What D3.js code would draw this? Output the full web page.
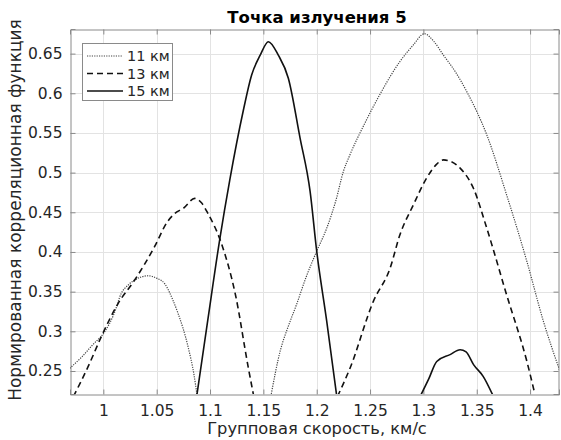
<!DOCTYPE html>
<html>
<head>
<meta charset="utf-8">
<script src="https://cdn.jsdelivr.net/npm/d3@7"></script>
<style>
  body { margin: 0; background: #fff; }
  text { font-family: "DejaVu Sans", sans-serif; }
</style>
</head>
<body>
<div id="vis-holder"></div>
<script>
// Chart data, null = curve leaves the axes
const speed11 = [0.9685, 0.980, 0.990, 1.0013, 1.010, 1.0169, 1.023, 1.0294, 1.0419, 1.050, 1.0575, 1.065, 1.070, 1.0794, 1.085, 1.088, null,
                 1.157, 1.1657, 1.173, 1.181, 1.190, 1.200, 1.2094, 1.218, 1.225, 1.231, 1.245, 1.259, 1.278, 1.290, 1.301, 1.310, 1.3188, 1.330, 1.3407, 1.3594, 1.378, 1.397, 1.4125, 1.428];
const corr11 = [0.2534, 0.268, 0.283, 0.2995, 0.322, 0.348, 0.358, 0.3646, 0.370, 0.367, 0.360, 0.340, 0.3227, 0.2806, 0.245, 0.218, null,
                0.218, 0.2748, 0.305, 0.3335, 0.368, 0.401, 0.430, 0.465, 0.5015, 0.522, 0.562, 0.598, 0.640, 0.660, 0.675, 0.665, 0.648, 0.627, 0.602, 0.5476, 0.472, 0.388, 0.3126, 0.2496];

const speed13 = [0.972, 0.9857, 0.998, 1.0138, 1.0294, 1.048, 1.060, 1.067, 1.075, 1.0857, 1.092, 1.098, 1.1106, 1.124, 1.1357, 1.141, null,
                 1.2195, 1.2313, 1.2531, 1.2688, 1.278, 1.2906, 1.303, 1.312, 1.3188, 1.326, 1.3344, 1.347, 1.3594, 1.378, 1.397, 1.405];
const corr13 = [0.218, 0.2554, 0.293, 0.335, 0.3646, 0.4066, 0.438, 0.4486, 0.455, 0.4675, 0.462, 0.4486, 0.411, 0.345, 0.2554, 0.218, null,
                0.218, 0.2538, 0.3378, 0.3797, 0.4217, 0.4594, 0.493, 0.510, 0.516, 0.514, 0.5057, 0.480, 0.430, 0.346, 0.262, 0.218];

const speed15 = [1.0875, 1.098, 1.109, 1.1185, 1.131, 1.139, 1.147, 1.1547, 1.164, 1.1734, 1.1844, 1.1938, 1.200, 1.2094, 1.2188, null,
                 1.297, 1.305, 1.3125, 1.325, 1.3344, 1.340, 1.347, 1.356, 1.3656];
const corr15 = [0.218, 0.315, 0.415, 0.4906, 0.577, 0.623, 0.648, 0.665, 0.648, 0.619, 0.5435, 0.4763, 0.401, 0.3126, 0.218, null,
                0.218, 0.240, 0.262, 0.2706, 0.2768, 0.274, 0.258, 0.2433, 0.218];

const seriesNames = ["11 км", "13 км", "15 км"];
const xTicks = [1, 1.05, 1.1, 1.15, 1.2, 1.25, 1.3, 1.35, 1.4];
const yTicks = [0.25, 0.3, 0.35, 0.4, 0.45, 0.5, 0.55, 0.6, 0.65];

// Set margins and dimensions
const width = 561;
const height = 440;
const margin = { top: 29, right: 2, bottom: 46, left: 70 };

const svg = d3.select("#vis-holder")
    .append("svg")
    .attr("width", width)
    .attr("height", height);

const x = d3.scaleLinear()
    .domain([0.96875, 1.4271])
    .range([margin.left, width - margin.right]);

const y = d3.scaleLinear()
    .domain([0.221, 0.681])
    .range([height - margin.bottom, margin.top]);

const axisColor = "#262626";

// grid
svg.append("g")
    .selectAll("line")
    .data(xTicks)
    .enter()
    .append("line")
    .attr("x1", (d) => Math.round(x(d)) + 0.5)
    .attr("x2", (d) => Math.round(x(d)) + 0.5)
    .attr("y1", y.range()[0])
    .attr("y2", y.range()[1])
    .attr("stroke", "#e3e3e3");

svg.append("g")
    .selectAll("line")
    .data(yTicks)
    .enter()
    .append("line")
    .attr("y1", (d) => Math.round(y(d)) + 0.5)
    .attr("y2", (d) => Math.round(y(d)) + 0.5)
    .attr("x1", x.range()[0])
    .attr("x2", x.range()[1])
    .attr("stroke", "#e3e3e3");

// axes (MATLAB style, ticks pointing in, box on)
const tickLen = 5;
const axBottom = svg.append("g")
    .attr("transform", `translate(0,${height - margin.bottom + 0.5})`)
    .call(d3.axisBottom(x).tickValues(xTicks).tickSize(-tickLen).tickPadding(10).tickFormat(d3.format("")));
const axTop = svg.append("g")
    .attr("transform", `translate(0,${margin.top + 0.5})`)
    .call(d3.axisTop(x).tickValues(xTicks).tickSize(-tickLen).tickFormat(""));
const axLeft = svg.append("g")
    .attr("transform", `translate(${margin.left + 0.5},0)`)
    .call(d3.axisLeft(y).tickValues(yTicks).tickSize(-tickLen).tickPadding(8).tickFormat(d3.format("")));
const axRight = svg.append("g")
    .attr("transform", `translate(${width - margin.right - 0.5},0)`)
    .call(d3.axisRight(y).tickValues(yTicks).tickSize(-tickLen).tickFormat(""));

[axBottom, axTop, axLeft, axRight].forEach((g) => {
  g.select(".domain").attr("stroke", "#8a8a8a").attr("stroke-width", 1);
  g.selectAll(".tick line").attr("stroke", "#8a8a8a");
  g.selectAll(".tick text").attr("fill", axisColor).attr("font-size", "15.5px");
});

// clip for the curves
svg.append("clipPath")
    .attr("id", "plot-clip")
    .append("rect")
    .attr("x", margin.left)
    .attr("y", margin.top)
    .attr("width", width - margin.left - margin.right)
    .attr("height", height - margin.top - margin.bottom);

const line = d3.line()
    .defined((d) => d[0] !== null)
    .x((d) => x(d[0]))
    .y((d) => y(d[1]))
    .curve(d3.curveMonotoneX);

const series = [
  { pts: d3.zip(speed11, corr11), dash: "1.2,1.2", w: 1.2, color: "#444" },
  { pts: d3.zip(speed13, corr13), dash: "6,4", w: 1.6, color: "#111" },
  { pts: d3.zip(speed15, corr15), dash: null, w: 1.6, color: "#111" }
];

svg.append("g")
    .attr("clip-path", "url(#plot-clip)")
    .selectAll("path")
    .data(series)
    .enter()
    .append("path")
    .attr("d", (d) => line(d.pts))
    .attr("fill", "none")
    .attr("stroke", (d) => d.color)
    .attr("stroke-width", (d) => d.w)
    .attr("stroke-dasharray", (d) => d.dash);

// legend
const legend = svg.append("g");
legend.append("rect")
    .attr("x", 82.5)
    .attr("y", 43.5)
    .attr("width", 90)
    .attr("height", 57)
    .attr("fill", "#fff")
    .attr("stroke", "#8a8a8a");

series.forEach((s, i) => {
  const ly = 56 + i * 17.5;
  legend.append("line")
      .attr("x1", 87).attr("x2", 123)
      .attr("y1", ly).attr("y2", ly)
      .attr("stroke", s.color)
      .attr("stroke-width", s.w)
      .attr("stroke-dasharray", s.dash);
  legend.append("text")
      .attr("x", 127)
      .attr("y", ly + 5)
      .attr("font-size", "14.5px")
      .attr("fill", axisColor)
      .text(seriesNames[i]);
});

// title and axis labels
svg.append("text")
    .attr("x", 317)
    .attr("y", 23)
    .attr("text-anchor", "middle")
    .attr("font-size", "16.5px")
    .attr("font-weight", "bold")
    .attr("fill", "#000")
    .text("Точка излучения 5");

svg.append("text")
    .attr("x", 317)
    .attr("y", 434)
    .attr("text-anchor", "middle")
    .attr("font-size", "16.3px")
    .attr("fill", axisColor)
    .text("Групповая скорость, км/с");

svg.append("text")
    .attr("transform", "translate(21,210) rotate(-90)")
    .attr("text-anchor", "middle")
    .attr("font-size", "17px")
    .attr("fill", axisColor)
    .text("Нормированная корреляционная функция");
</script>
</body>
</html>
